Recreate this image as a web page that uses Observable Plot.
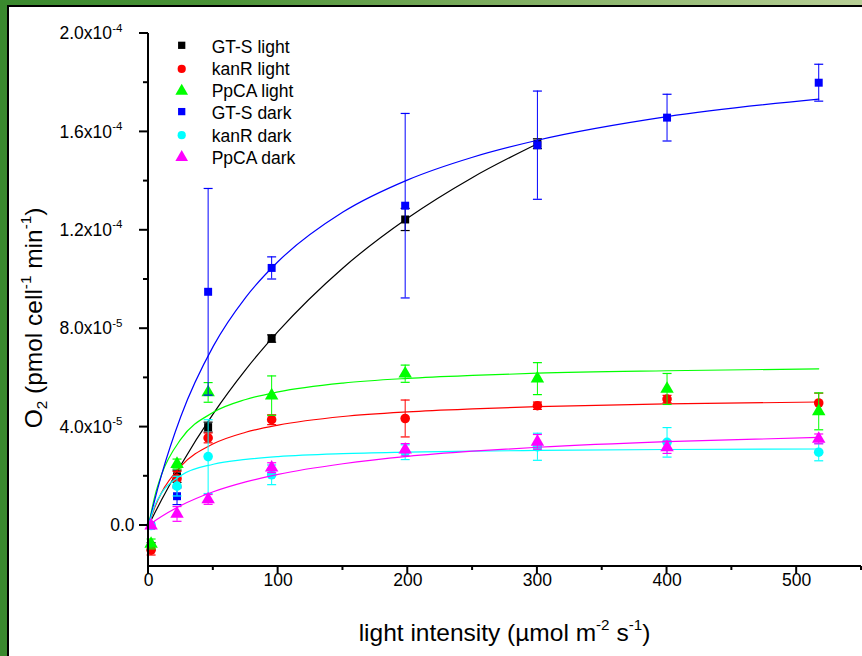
<!DOCTYPE html>
<html>
<head>
<meta charset="utf-8">
<script src="https://cdn.jsdelivr.net/npm/d3@7"></script>
<script src="https://cdn.jsdelivr.net/npm/@observablehq/plot@0.6"></script>
<style>
html, body { margin: 0; padding: 0; background: #fff; }
#frame { position: relative; width: 862px; height: 656px; overflow: hidden;
  background: linear-gradient(90deg, #3a892e 0%, #4a9236 25%, #7aab5c 55%, #b8cf96 100%); }
#inner { position: absolute; left: 7px; top: 5px; right: 0; bottom: 0; background: #fff;
  border-left: 2px solid #000; border-top: 2px solid #000; }
#chart { position: absolute; left: 0; top: 0; }
</style>
</head>
<body>
<div id="frame"><div id="inner"></div><div id="chart"></div></div>
<script>
const FONT = "'Liberation Sans', Arial, Helvetica, sans-serif";

// light intensity (µmol m-2 s-1) of the measurements
const intensity = [2, 22, 46, 95, 198, 300, 400, 517];
// O2 values in units of 1e-5 pmol cell-1 min-1
const gtsLight    = [-0.85, 2.0, 4.0, 7.6, 12.44, 15.52];
const gtsLightErr = [0.15, 0.25, 0.2, 0.15, 0.45, 0.2];
const kanLight    = [-1.0, 1.9, 3.56, 4.3, 4.35, 4.87, 5.14, 4.98];
const kanLightErr = [0.2, 0.3, 0.2, 0.2, 0.75, 0.15, 0.15, 0.4];
const ppcaLight    = [-0.75, 2.5, 5.41, 5.28, 6.17, 5.97, 5.55, 4.64];
const ppcaLightErr = [0.2, 0.2, 0.4, 0.8, 0.35, 0.65, 0.63, 0.75];
const gtsDark    = [0, 1.19, 9.5, 10.47, 13.0, 15.46, 16.58, 18.0];
const gtsDarkErr = [0, 0.34, 4.2, 0.45, 3.75, 2.2, 0.95, 0.75];
const kanDark    = [0, 1.6, 2.8, 2.06, 2.98, 3.2, 3.38, 2.98];
const kanDarkErr = [0, 0.4, 1.5, 0.4, 0.3, 0.55, 0.6, 0.35];
const ppcaDark    = [0, 0.47, 1.06, 2.35, 3.08, 3.4, 3.18, 3.52];
const ppcaDarkErr = [0, 0.3, 0.2, 0.2, 0.25, 0.3, 0.25, 0.2];

// fitted curves at these intensities
const fitX = [0, 5, 10, 25, 50, 75, 100, 150, 200, 250, 300, 400, 517];
const gtsLightFit  = [0, 0.526, 1.034, 2.46, 4.55, 6.34, 7.89, 10.47, 12.5, 14.15, 15.52];
const kanLightFit  = [0, 0.759, 1.33, 2.41, 3.32, 3.79, 4.08, 4.43, 4.62, 4.74, 4.83, 4.94, 5.02];
const ppcaLightFit = [0, 1.217, 2.06, 3.51, 4.6, 5.12, 5.43, 5.79, 5.98, 6.10, 6.19, 6.29, 6.37];
const gtsDarkFit   = [0, 1.077, 2.045, 4.44, 7.29, 9.275, 10.73, 12.74, 14.05, 14.97, 15.66, 16.62, 17.33];
const kanDarkFit   = [0, 0.828, 1.315, 2.03, 2.49, 2.684, 2.80, 2.92, 2.98, 3.023, 3.05, 3.09, 3.11];
const ppcaDarkFit  = [0, 0.191, 0.366, 0.81, 1.37, 1.771, 2.08, 2.51, 2.81, 3.02, 3.18, 3.41, 3.58];

const seriesNames   = ["GT-S light", "kanR light", "PpCA light", "GT-S dark", "kanR dark", "PpCA dark"];
const seriesColors  = ["#000000", "#ff0000", "#00ff00", "#0000ff", "#00ffff", "#ff00ff"];
const seriesSymbols = ["square", "circle", "triangle", "square", "circle", "triangle"];
const seriesValues  = [gtsLight, kanLight, ppcaLight, gtsDark, kanDark, ppcaDark];
const seriesErrors  = [gtsLightErr, kanLightErr, ppcaLightErr, gtsDarkErr, kanDarkErr, ppcaDarkErr];
const seriesFits    = [gtsLightFit, kanLightFit, ppcaLightFit, gtsDarkFit, kanDarkFit, ppcaDarkFit];

const xTicks = [0, 100, 200, 300, 400, 500];
const xTickLabels = ["0", "100", "200", "300", "400", "500"];
const xMinor = [50, 150, 250, 350, 450, 550];
const yTicks = [0, 4, 8, 12, 16, 20];
const yTickMant = ["0.0", "4.0x10", "8.0x10", "1.2x10", "1.6x10", "2.0x10"];
const yTickExp  = ["", "-5", "-5", "-4", "-4", "-4"];
const yMinor = [2, 6, 10, 14, 18];

const symR = {square: 4.5, circle: 4.8, triangle: 5};
const legR = {square: 4.1, circle: 4.1, triangle: 4.7};
const d3sym = {square: d3.symbolSquare, circle: d3.symbolCircle, triangle: d3.symbolTriangle};

const hline = {draw(ctx, size) { const r = Math.sqrt(size / Math.PI); ctx.moveTo(-r, 0); ctx.lineTo(r, 0); }};

const marks = [];
seriesNames.forEach((name, k) => {
  const color = seriesColors[k];
  const pts = seriesValues[k].map((v, i) => ({x: intensity[i], y: v, e: seriesErrors[k][i]}));
  const fit = seriesFits[k].map((v, i) => ({x: fitX[i], y: v}));
  const withErr = pts.filter(d => d.e > 0);
  marks.push(
    Plot.line(fit, {x: "x", y: "y", stroke: color, strokeWidth: 1.2, curve: "monotone-x"}),
    Plot.ruleX(withErr, {x: "x", y1: d => d.y - d.e, y2: d => d.y + d.e, stroke: color, strokeWidth: 1}),
    Plot.dot(withErr, {x: "x", y: d => d.y + d.e, symbol: hline, r: 4.5, stroke: color, fill: "none", strokeWidth: 1.2}),
    Plot.dot(withErr, {x: "x", y: d => d.y - d.e, symbol: hline, r: 4.5, stroke: color, fill: "none", strokeWidth: 1.2}),
    Plot.dot(pts, {x: "x", y: "y", symbol: seriesSymbols[k], r: symR[seriesSymbols[k]], fill: color, stroke: "none"})
  );
});

// axes lines and ticks
function axes(index, scales, values, dims) {
  const left = dims.marginLeft, right = dims.width - dims.marginRight;
  const top = dims.marginTop, bottom = dims.height - dims.marginBottom;
  const g = d3.create("svg:g").attr("stroke", "#000").attr("stroke-width", 2).attr("fill", "none");
  g.append("line").attr("x1", left).attr("x2", left).attr("y1", top).attr("y2", bottom + 1);
  g.append("line").attr("x1", left - 1).attr("x2", right).attr("y1", bottom).attr("y2", bottom);
  yTicks.forEach(t => g.append("line").attr("x1", left - 9).attr("x2", left).attr("y1", scales.y(t)).attr("y2", scales.y(t)));
  yMinor.forEach(t => g.append("line").attr("x1", left - 5).attr("x2", left).attr("y1", scales.y(t)).attr("y2", scales.y(t)));
  xTicks.forEach(t => g.append("line").attr("y1", bottom).attr("y2", bottom + 8).attr("x1", scales.x(t)).attr("x2", scales.x(t)));
  xMinor.forEach(t => g.append("line").attr("y1", bottom).attr("y2", bottom + 4).attr("x1", scales.x(t)).attr("x2", scales.x(t)));
  return g.node();
}

function titles(index, scales, values, dims) {
  const left = dims.marginLeft, right = dims.width - dims.marginRight;
  const g = d3.create("svg:g").attr("font-family", FONT).attr("font-size", 24.5).attr("fill", "#000");
  const xt = g.append("text").attr("x", (left + right) / 2).attr("y", dims.height - 15).attr("text-anchor", "middle");
  xt.append("tspan").text("light intensity (\u00b5mol m");
  xt.append("tspan").attr("font-size", "0.62em").attr("dy", "-0.75em").text("-2");
  xt.append("tspan").attr("dy", "0.465em").text(" s");
  xt.append("tspan").attr("font-size", "0.62em").attr("dy", "-0.75em").text("-1");
  xt.append("tspan").attr("dy", "0.465em").text(")");
  const yt = g.append("text").attr("transform", "translate(42,318) rotate(-90)").attr("text-anchor", "middle");
  yt.append("tspan").text("O");
  yt.append("tspan").attr("font-size", "0.62em").attr("dy", "0.35em").text("2");
  yt.append("tspan").attr("dy", "-0.217em").text(" (pmol cell");
  yt.append("tspan").attr("font-size", "0.62em").attr("dy", "-0.75em").text("-1");
  yt.append("tspan").attr("dy", "0.465em").text(" min");
  yt.append("tspan").attr("font-size", "0.62em").attr("dy", "-0.75em").text("-1");
  yt.append("tspan").attr("dy", "0.465em").text(")");
  return g.node();
}

function legend(index, scales, values, dims) {
  const g = d3.create("svg:g").attr("font-family", FONT).attr("font-size", 17.5).attr("text-anchor", "start");
  seriesNames.forEach((name, i) => {
    const cy = 46.8 + 22.1 * i, cx = 181.7;
    const s = seriesSymbols[i];
    const r = legR[s];
    g.append("path").attr("transform", `translate(${cx},${cy - (s === "square" ? 1.5 : 0)})`)
      .attr("d", d3.symbol(d3sym[s], r * r * Math.PI)()).attr("fill", seriesColors[i]);
    g.append("text").attr("x", 211.7).attr("y", cy).attr("dy", "0.36em").attr("text-anchor", "start")
      .attr("fill", "#000").text(name);
  });
  return g.node();
}

const chart = Plot.plot({
  width: 862, height: 656,
  marginLeft: 148, marginRight: 1, marginTop: 33, marginBottom: 90,
  x: {domain: [0, 550], axis: null},
  y: {domain: [-1.667, 20], axis: null},
  style: {background: "transparent", fontFamily: FONT, color: "#000", overflow: "visible"},
  marks: [
    ...marks,
    axes,
    Plot.text(xTicks, {x: d => d, frameAnchor: "bottom", dy: 19, text: (d, i) => xTickLabels[i], fontSize: 17.5, fill: "#000"}),
    Plot.text(yTicks.filter((d, i) => yTickExp[i] !== ""), {y: d => d, frameAnchor: "left", dx: -36.5, textAnchor: "end",
      text: d => yTickMant[yTicks.indexOf(d)], fontSize: 17.5, fill: "#000"}),
    Plot.text(yTicks.filter((d, i) => yTickExp[i] !== ""), {y: d => d, frameAnchor: "left", dx: -26, dy: -5.5, textAnchor: "end",
      text: d => yTickExp[yTicks.indexOf(d)], fontSize: 11.5, fill: "#000"}),
    Plot.text(yTicks.filter((d, i) => yTickExp[i] === ""), {y: d => d, frameAnchor: "left", dx: -14, textAnchor: "end",
      text: d => yTickMant[yTicks.indexOf(d)], fontSize: 17.5, fill: "#000"}),
    titles,
    legend
  ]
});
document.getElementById("chart").appendChild(chart);
</script>
</body>
</html>
